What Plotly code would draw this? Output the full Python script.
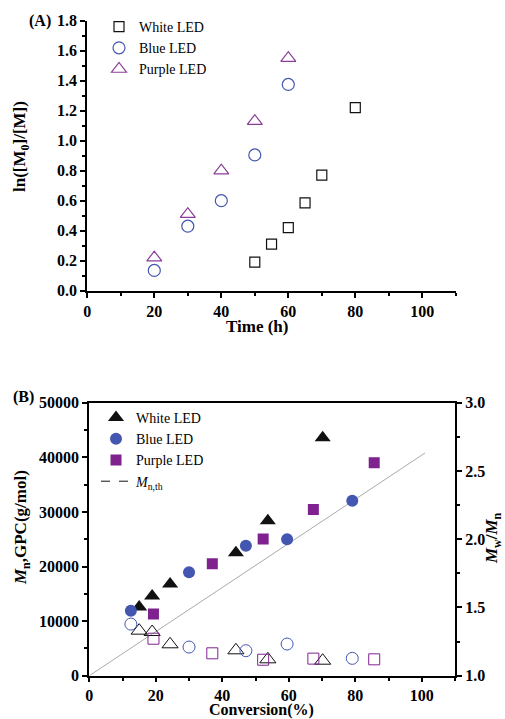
import plotly.graph_objects as go

W, H = 505, 719
FONT = "Liberation Serif"

# ---------- Panel A data ----------
time_white = [50, 55, 60, 65, 70, 80]
ln_white = [0.19, 0.31, 0.42, 0.585, 0.77, 1.22]
time_blue = [20, 30, 40, 50, 60]
ln_blue = [0.135, 0.43, 0.60, 0.905, 1.375]
time_purple = [20, 30, 40, 50, 60]
ln_purple = [0.22, 0.51, 0.80, 1.13, 1.55]

# ---------- Panel B data ----------
conv_white = [15.0, 18.9, 24.3, 44.1, 53.7, 70.2]
mn_white = [12600, 14600, 16800, 22500, 28400, 43600]
pdi_white = [1.33, 1.32, 1.23, 1.186, 1.12, 1.11]

conv_blue = [12.5, 30.0, 47.1, 59.5, 79.1]
mn_blue = [11900, 18950, 23800, 25000, 32050]
pdi_blue = [1.378, 1.21, 1.183, 1.232, 1.127]

conv_purple = [19.3, 37.0, 52.3, 67.4, 85.7]
mn_purple = [11300, 20500, 25050, 30450, 39000]
pdi_purple = [1.271, 1.164, 1.117, 1.125, 1.12]

conv_th = [0, 101]
mn_th = [0, 40800]

BLACK = "#111111"
BLUE = "#4457b0"
PURPLE = "#7f2290"
PURPLE_A = "#8a3c98"


def px_x(p):
    return p / W


def px_y(p):
    return 1 - p / H


fig = go.Figure()

# Panel A traces
fig.add_trace(go.Scatter(x=time_white, y=ln_white, mode="markers", name="White LED",
                         marker=dict(symbol="square-open", size=10, color=BLACK, line=dict(width=1.2)),
                         xaxis="x", yaxis="y", legend="legend"))
fig.add_trace(go.Scatter(x=time_blue, y=ln_blue, mode="markers", name="Blue LED",
                         marker=dict(symbol="circle-open", size=12, color=BLUE, line=dict(width=1.2)),
                         xaxis="x", yaxis="y", legend="legend"))
fig.add_trace(go.Scatter(x=time_purple, y=ln_purple, mode="markers", name="Purple LED",
                         marker=dict(symbol="triangle-up-open", size=13, color=PURPLE_A, line=dict(width=1.2)),
                         xaxis="x", yaxis="y", legend="legend"))

# Panel B traces
fig.add_trace(go.Scatter(x=conv_th, y=mn_th, mode="lines", showlegend=False,
                         line=dict(color="#aaaaaa", width=1), xaxis="x2", yaxis="y2"))
fig.add_trace(go.Scatter(x=conv_white, y=mn_white, mode="markers", name="White LED",
                         marker=dict(symbol="triangle-up", size=14, color=BLACK),
                         xaxis="x2", yaxis="y2", legend="legend2"))
fig.add_trace(go.Scatter(x=conv_blue, y=mn_blue, mode="markers", name="Blue LED",
                         marker=dict(symbol="circle", size=12, color=BLUE),
                         xaxis="x2", yaxis="y2", legend="legend2"))
fig.add_trace(go.Scatter(x=conv_purple, y=mn_purple, mode="markers", name="Purple LED",
                         marker=dict(symbol="square", size=11, color=PURPLE),
                         xaxis="x2", yaxis="y2", legend="legend2"))
fig.add_trace(go.Scatter(x=[None], y=[None], mode="lines", name="<i>M</i><sub>n,th</sub>",
                         line=dict(color=BLACK, width=1, dash="dash"),
                         xaxis="x2", yaxis="y2", legend="legend2"))

fig.add_trace(go.Scatter(x=conv_white, y=pdi_white, mode="markers", showlegend=False,
                         marker=dict(symbol="triangle-up-open", size=14, color=BLACK, line=dict(width=1)),
                         xaxis="x2", yaxis="y3"))
fig.add_trace(go.Scatter(x=conv_blue, y=pdi_blue, mode="markers", showlegend=False,
                         marker=dict(symbol="circle-open", size=12, color=BLUE, line=dict(width=1)),
                         xaxis="x2", yaxis="y3"))
fig.add_trace(go.Scatter(x=conv_purple, y=pdi_purple, mode="markers", showlegend=False,
                         marker=dict(symbol="square-open", size=11, color=PURPLE, line=dict(width=1)),
                         xaxis="x2", yaxis="y3"))

tickfont = dict(family=FONT, size=16, color="black", weight="bold")
common = dict(showgrid=False, zeroline=False, showline=True, linecolor="black", linewidth=2,
              ticks="outside", tickwidth=1.5, tickcolor="black", tickfont=tickfont,
              automargin=False)

fig.update_layout(
    width=W, height=H, margin=dict(l=0, r=0, t=0, b=0),
    paper_bgcolor="white", plot_bgcolor="white",
    font=dict(family=FONT, color="black"),
    xaxis=dict(domain=[87.3 / W, 455.8 / W], range=[0, 110], dtick=20, anchor="y", ticklen=5,
               minor=dict(dtick=10, ticks="outside", ticklen=3, tickcolor="black"), **common),
    yaxis=dict(domain=[px_y(290.7), px_y(20.7)], range=[0, 1.8], dtick=0.2, tickformat=".1f", ticklen=5,
               anchor="x", minor=dict(dtick=0.1, ticks="outside", ticklen=3, tickcolor="black"), **common),
    xaxis2=dict(domain=[89.3 / W, 455.0 / W], range=[0, 110], dtick=20, anchor="y2", mirror=True, ticklen=4,
                minor=dict(dtick=10, ticks="outside", ticklen=3, tickcolor="black"), **common),
    yaxis2=dict(domain=[px_y(675.7), px_y(402.7)], range=[0, 50000], dtick=10000, tickformat="d", ticklen=5,
                anchor="x2", minor=dict(dtick=5000, ticks="outside", ticklen=3, tickcolor="black"), **common),
    yaxis3=dict(range=[1, 3], dtick=0.5, tickformat=".1f", overlaying="y2", side="right", anchor="x2", ticklen=5,
                minor=dict(dtick=0.25, ticks="outside", ticklen=3, tickcolor="black"), **common),
    legend=dict(x=px_x(99), y=px_y(11), xanchor="left", yanchor="top", bgcolor="rgba(0,0,0,0)",
                font=dict(family=FONT, size=14, color="black"), tracegroupgap=0, itemwidth=30),
    legend2=dict(x=px_x(96), y=px_y(402), xanchor="left", yanchor="top", bgcolor="rgba(0,0,0,0)",
                 font=dict(family=FONT, size=14, color="black"), tracegroupgap=0, itemwidth=30),
)

bold17 = dict(family=FONT, size=17, color="black", weight="bold")
bold16 = dict(family=FONT, size=16, color="black", weight="bold")
annos = [
    dict(text="(A)", x=px_x(40), y=px_y(21), font=bold16),
    dict(text="(B)", x=px_x(23), y=px_y(397), font=bold16),
    dict(text="Time (h)", x=px_x(257), y=px_y(326), font=bold17),
    dict(text="Conversion(%)", x=px_x(261), y=px_y(709.5), font=bold16),
    dict(text="ln([M<sub>0</sub>]/[M])", x=px_x(21), y=px_y(147), font=bold17, textangle=-90),
    dict(text="<i>M</i><sub>n</sub>,GPC(g/mol)", x=px_x(22), y=px_y(528), font=bold17, textangle=-90),
    dict(text="<i>M</i><sub>w</sub>/<i>M</i><sub>n</sub>", x=px_x(493), y=px_y(538), font=bold17, textangle=-90),
]
for a in annos:
    fig.add_annotation(xref="paper", yref="paper", showarrow=False, xanchor="center", yanchor="middle", **a)

fig.write_html("out.html", config={"displayModeBar": False},
               post_script="document.body.style.margin='0px';")
